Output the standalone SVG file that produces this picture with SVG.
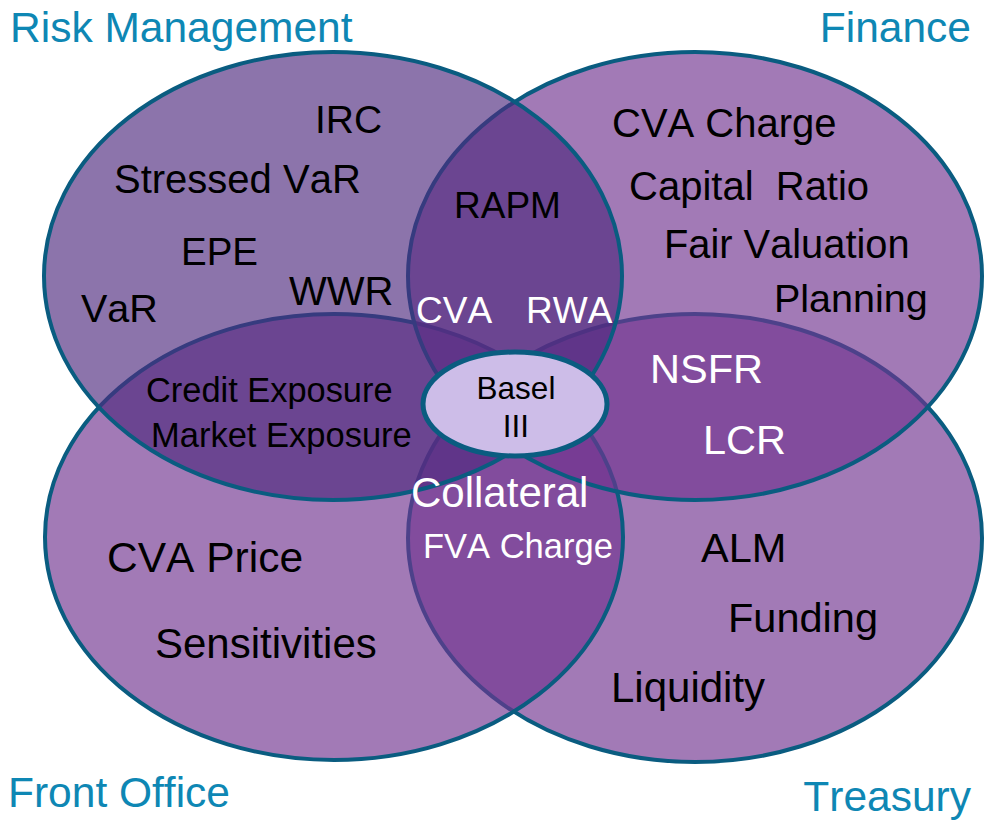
<svg xmlns="http://www.w3.org/2000/svg" width="984" height="821" viewBox="0 0 984 821">
<style>
.set{stroke:#0a5c80;stroke-width:4}
.pc{fill:#713490;fill-opacity:0.656}
.rm{fill:#4e297e;fill-opacity:0.65}
text{font-family:"Liberation Sans",Arial,sans-serif;font-kerning:none}
.title{fill:#0e87b4;font-size:42.5px}
.k{fill:#000}
.w{fill:#fff}
</style>
<rect width="984" height="821" fill="#fff"/>
<g id="treasury">
<ellipse class="set pc" cx="695" cy="538" rx="287" ry="224"/>
<text class="title" x="971" y="811" text-anchor="end">Treasury</text>
</g>
<g id="front-office">
<ellipse class="set pc" cx="334" cy="537" rx="289" ry="223"/>
<text class="title" x="8" y="807">Front Office</text>
</g>
<g id="finance">
<ellipse class="set pc" cx="695" cy="276" rx="287" ry="224"/>
<text class="title" x="971" y="42" text-anchor="end">Finance</text>
</g>
<g id="risk-management">
<ellipse class="set rm" cx="333" cy="276" rx="289" ry="224"/>
<text class="title" x="10" y="42">Risk Management</text>
</g>
<g id="labels">
<text class="k" x="315" y="133" font-size="39">IRC</text>
<text class="k" x="114" y="193" font-size="40">Stressed VaR</text>
<text class="k" x="181" y="265" font-size="38.5">EPE</text>
<text class="k" x="289" y="305" font-size="40">WWR</text>
<text class="k" x="81" y="322" font-size="39.5">VaR</text>
<text class="k" x="454" y="218" font-size="37">RAPM</text>
<text class="w" x="416" y="323" font-size="37">CVA</text>
<text class="w" x="526" y="323" font-size="37">RWA</text>
<text class="k" x="612" y="137" font-size="40">CVA Charge</text>
<text class="k" x="629" y="200" font-size="40">Capital&#160; Ratio</text>
<text class="k" x="664" y="258" font-size="39.8">Fair Valuation</text>
<text class="k" x="774" y="312" font-size="39.5">Planning</text>
<text class="k" x="146" y="402" font-size="34.4">Credit Exposure</text>
<text class="k" x="151" y="447" font-size="34.5">Market Exposure</text>
<text class="w" x="650" y="383" font-size="41.5">NSFR</text>
<text class="w" x="703" y="454" font-size="41.5">LCR</text>
<text class="w" x="411" y="507" font-size="42">Collateral</text>
<text class="w" x="423" y="558" font-size="34.5">FVA Charge</text>
<text class="k" x="107" y="572" font-size="42.5">CVA Price</text>
<text class="k" x="155" y="658" font-size="42">Sensitivities</text>
<text class="k" x="701" y="562" font-size="41.5">ALM</text>
<text class="k" x="728" y="632" font-size="41.5">Funding</text>
<text class="k" x="611" y="702" font-size="42">Liquidity</text>
</g>
<g id="basel-iii">
<ellipse cx="515" cy="404" rx="92" ry="52" fill="#cdbde8" stroke="#0a5c80" stroke-width="5"/>
<text class="k" x="516" y="399" font-size="31.5" text-anchor="middle">Basel</text>
<text class="k" x="516" y="437" font-size="31.5" text-anchor="middle">III</text>
</g>
<g id="connectors"/>
</svg>
